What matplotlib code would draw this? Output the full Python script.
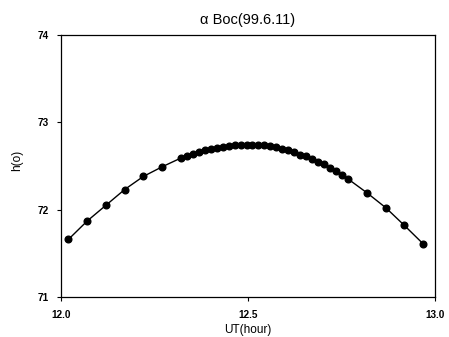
import matplotlib
matplotlib.use("Agg")
import matplotlib.pyplot as plt

plt.rcParams['font.family'] = ['Liberation Sans', 'DejaVu Sans']

# UT (hour) and altitude h (deg)
ut = [12.02, 12.07, 12.12, 12.17, 12.22, 12.27,
      12.32, 12.336, 12.352, 12.368, 12.384, 12.40, 12.416, 12.432, 12.448,
      12.464, 12.48, 12.496, 12.512, 12.528, 12.544, 12.56, 12.576, 12.592,
      12.608, 12.624, 12.64, 12.656, 12.672, 12.688, 12.704, 12.72, 12.736,
      12.752, 12.768,
      12.819, 12.869, 12.918, 12.968]
h = [71.66, 71.87, 72.05, 72.23, 72.38, 72.49,
     72.59, 72.62, 72.64, 72.66, 72.68, 72.70, 72.71, 72.72, 72.73,
     72.74, 72.74, 72.745, 72.745, 72.74, 72.735, 72.73, 72.72, 72.70,
     72.68, 72.66, 72.63, 72.61, 72.58, 72.55, 72.52, 72.48, 72.44,
     72.40, 72.35,
     72.19, 72.02, 71.82, 71.61]

fig = plt.figure(figsize=(4.49, 3.37), dpi=100)
ax = fig.add_axes([61/449, 1 - 297/337, (435-61)/449, (297-35)/337])

ax.plot(ut, h, color='black', linewidth=1.0, marker='o', markersize=4.8)

ax.set_xlim(12.0, 13.0)
ax.set_ylim(71, 74)
ax.set_xticks([12.0, 12.5, 13.0])
ax.set_xticklabels(['12.0', '12.5', '13.0'])
ax.set_yticks([71, 72, 73, 74])
ax.tick_params(direction='out', length=3, width=0.8, labelsize=7.2)
ax.tick_params(axis='x', pad=6)
ax.tick_params(axis='y', pad=6)
for lab in ax.get_xticklabels() + ax.get_yticklabels():
    lab.set_fontweight('bold')
for s in ax.spines.values():
    s.set_linewidth(0.9)

ax.set_title('α Boc(99.6.11)', fontsize=10.5, pad=8)
ax.set_xlabel('UT(hour)', fontsize=8.5, va='top')
ax.xaxis.set_label_coords(0.5, -0.103)
ax.set_ylabel('h(o)', fontsize=8.5, va='center')
ax.yaxis.set_label_coords(-0.117, 0.523)

fig.savefig('out.png', dpi=100)
